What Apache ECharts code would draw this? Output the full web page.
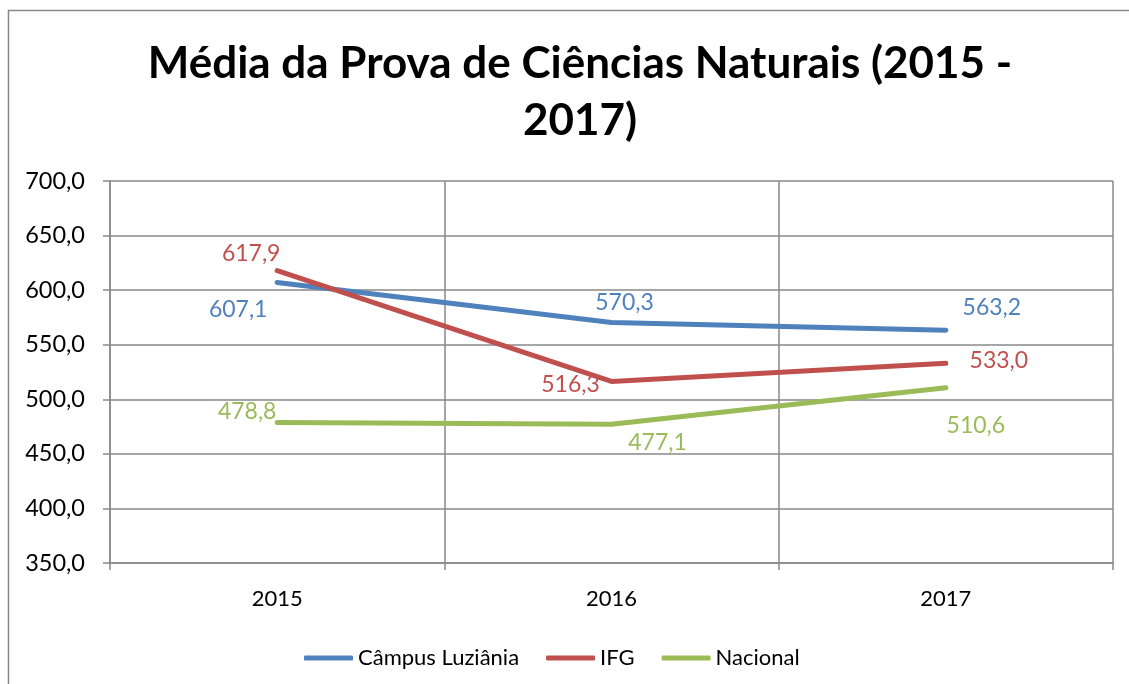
<!DOCTYPE html>
<html>
<head>
<meta charset="utf-8">
<script src="https://cdn.jsdelivr.net/npm/echarts@6/dist/echarts.min.js"></script>
<style>
html,body{margin:0;padding:0;background:#fff;}
#chart{width:1129px;height:684px;}
</style>
</head>
<body>
<div id="chart"></div>
<script>
// ---- data ----
const categories = ['2015', '2016', '2017'];
const seriesNames = ['Câmpus Luziânia', 'IFG', 'Nacional'];
const campusValues = [607.1, 570.3, 563.2];
const ifgValues = [617.9, 516.3, 533.0];
const nacionalValues = [478.8, 477.1, 510.6];
const yMin = 350, yMax = 700, yStep = 50;
const titleText = 'Média da Prova de Ciências Naturais (2015 -\n2017)';

// ---- presentation ----
const colors = ['#4F81BD', '#C0504D', '#9BBB59'];
const labelOffsets = [
  [[-39, 27], [13, -20], [46, -23]],
  [[-26, -17], [-41, 3], [53, -3]],
  [[-30, -11], [46, 18], [30, 38]]
];
const FONT = 'Lato';
const fmt = v => Number(v).toFixed(1).replace('.', ',');

function buildSeries(name, values, idx) {
  return {
    name: name,
    type: 'line',
    data: values.map((v, i) => ({
      value: v,
      label: { offset: labelOffsets[idx][i] }
    })),
    symbol: 'circle',
    symbolSize: 1,
    showSymbol: true,
    lineStyle: { color: colors[idx], width: 5, cap: 'round', join: 'round' },
    itemStyle: { color: colors[idx] },
    label: {
      show: true,
      position: 'inside',
      align: 'center',
      verticalAlign: 'middle',
      color: colors[idx],
      fontFamily: FONT,
      fontSize: 23,
      formatter: p => fmt(p.value)
    },
    emphasis: { disabled: true },
    animation: false
  };
}

const chart = echarts.init(document.getElementById('chart'));
chart.setOption({
  animation: false,
  backgroundColor: '#fff',
  title: {
    text: titleText,
    left: 575,
    top: 30,
    textAlign: 'center',
    textStyle: { fontFamily: FONT, fontWeight: 'bold', fontSize: 44, lineHeight: 57, color: '#000' }
  },
  graphic: [{
    type: 'rect',
    shape: { x: 8.5, y: 10.5, width: 1300, height: 900 },
    style: { fill: 'none', stroke: '#888', lineWidth: 1.5 },
    silent: true
  }],
  legend: {
    left: 299,
    top: 642,
    icon: 'roundRect',
    itemWidth: 49,
    itemHeight: 5,
    itemGap: 27,
    textStyle: { fontFamily: FONT, fontSize: 22, color: '#000' },
    data: seriesNames
  },
  grid: { left: 110, right: 16, top: 181, bottom: 121, containLabel: false },
  xAxis: {
    type: 'category',
    data: categories,
    boundaryGap: true,
    axisLine: { show: true, lineStyle: { color: '#898989', width: 1.5 } },
    axisTick: { show: true, length: 7, lineStyle: { color: '#898989', width: 1.5 } },
    splitLine: { show: true, lineStyle: { color: '#898989', width: 1.5 } },
    axisLabel: { fontFamily: FONT, fontSize: 22, color: '#000', margin: 25 }
  },
  yAxis: {
    type: 'value',
    min: yMin,
    max: yMax,
    interval: yStep,
    axisLine: { show: true, lineStyle: { color: '#898989', width: 1.5 } },
    axisTick: { show: true, length: 7, lineStyle: { color: '#898989', width: 1.5 } },
    splitLine: { show: true, lineStyle: { color: '#898989', width: 1.5 } },
    axisLabel: { fontFamily: FONT, fontSize: 23.5, color: '#000', margin: 25, formatter: v => fmt(v) }
  },
  series: [
    buildSeries(seriesNames[0], campusValues, 0),
    buildSeries(seriesNames[1], ifgValues, 1),
    buildSeries(seriesNames[2], nacionalValues, 2)
  ]
});
</script>
</body>
</html>
